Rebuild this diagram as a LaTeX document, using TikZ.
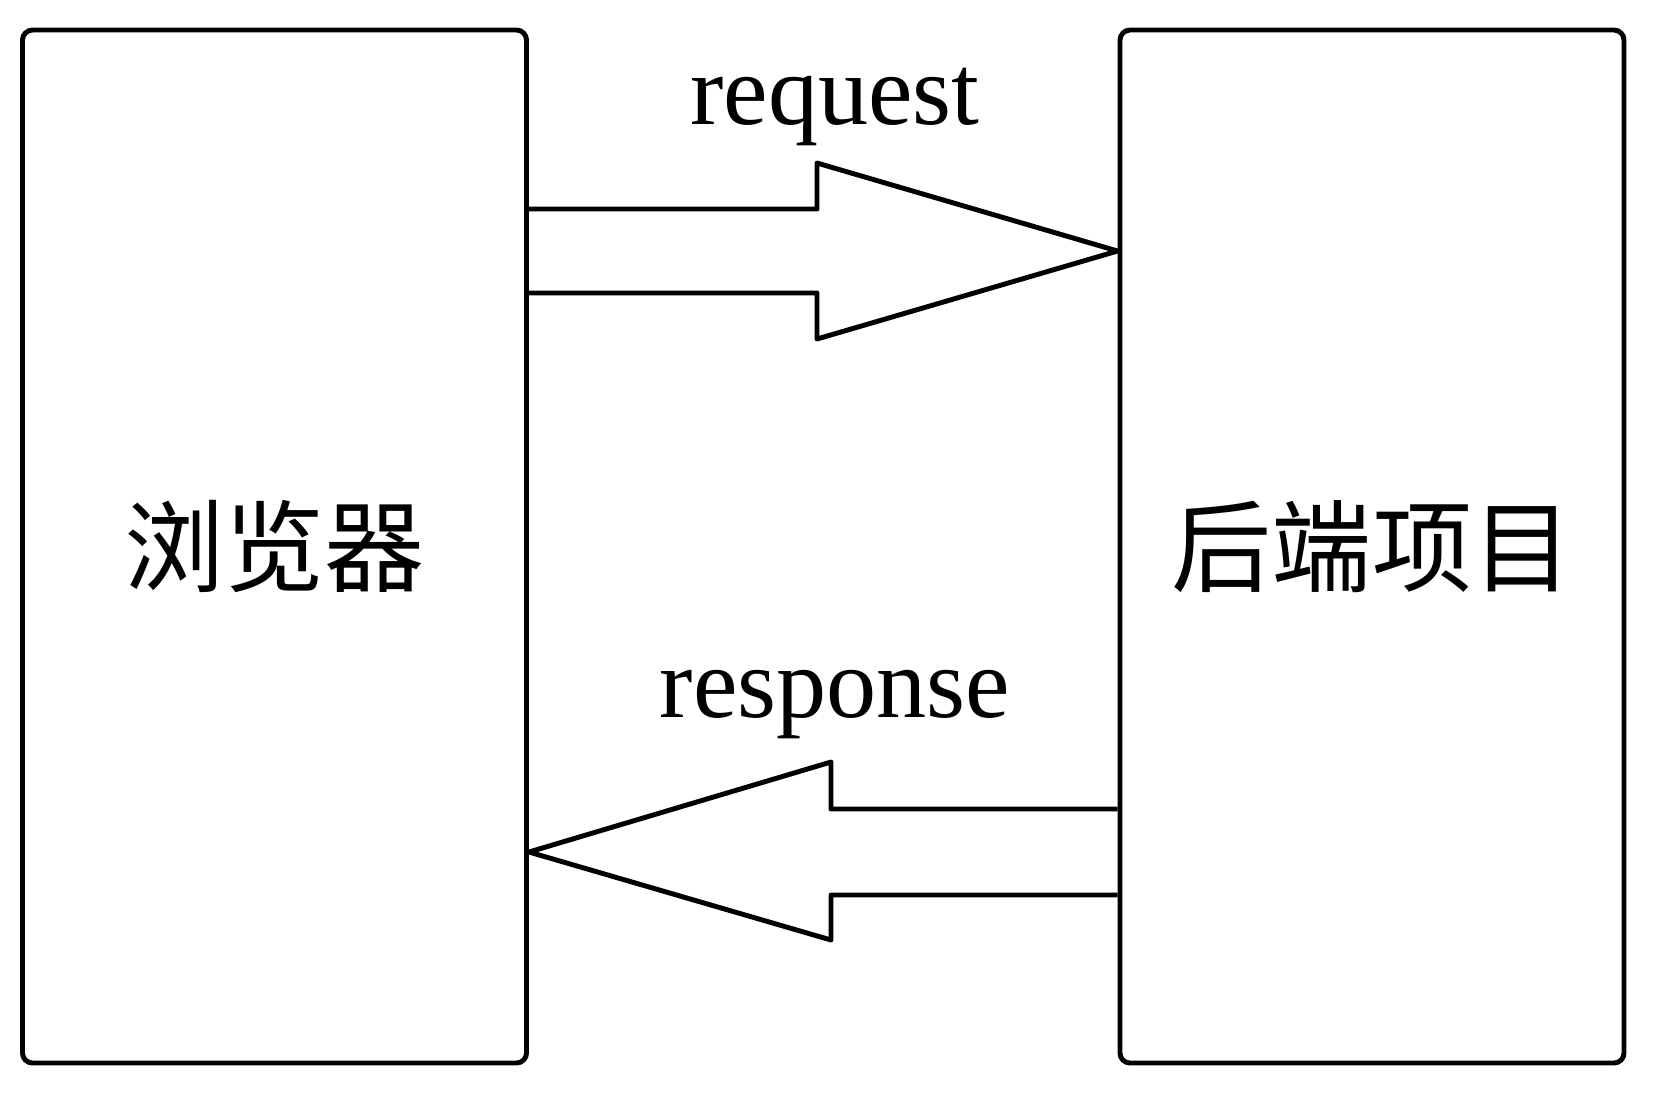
\documentclass[tikz,border=0pt]{standalone}
\usepackage{fontspec}
\setmainfont{Liberation Serif}
\newfontfamily\cjk{Noto Sans CJK SC}
\usepackage{tikz}
\usetikzlibrary{positioning,calc}

\begin{document}
\begin{tikzpicture}[
    font=\fontsize{28.5}{32}\selectfont,
    box/.style={
        draw=black,
        line width=1.4pt,
        rounded corners=1mm,
        minimum width=5.04cm,
        minimum height=10.33cm,
        inner sep=0pt,
        font=\cjk\fontsize{28.5}{32}\selectfont
    },
    blockarr/.style={draw=black, line width=1.4pt, line join=round},
    lbl/.style={anchor=base, inner sep=0pt}
]
\useasboundingbox (0,0) rectangle (16.53,-10.93);

\node[box] (browser) at (2.745,-5.465) {浏览器};
\node[box] (backend) at (13.72,-5.465) {后端项目};

% request: browser -> backend
\draw[blockarr] (browser.east |- 0,-2.09) -- (8.17,-2.09) -- (8.17,-1.63)
    -- (backend.west |- 0,-2.51) -- (8.17,-3.39) -- (8.17,-2.93)
    -- (browser.east |- 0,-2.93);
\node[lbl] (req) at (8.35,-1.24) {request};

% response: backend -> browser
\draw[blockarr] (backend.west |- 0,-8.09) -- (8.31,-8.09) -- (8.31,-7.62)
    -- (browser.east |- 0,-8.52) -- (8.31,-9.40) -- (8.31,-8.95)
    -- (backend.west |- 0,-8.95);
\node[lbl] (resp) at (8.35,-7.17) {response};

\end{tikzpicture}
\end{document}
